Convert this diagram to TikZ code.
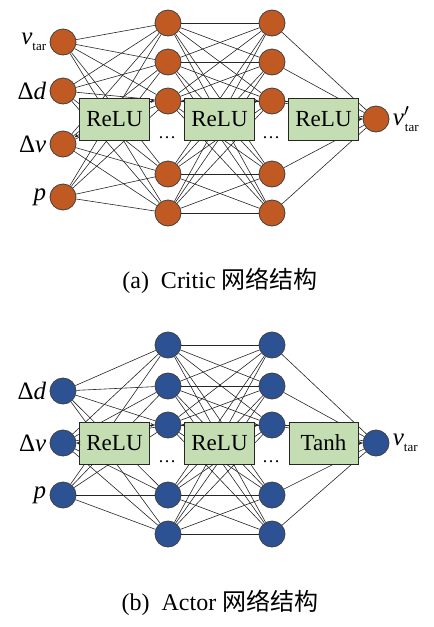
\documentclass[tikz,border=0pt]{standalone}
\usepackage{fontspec}
\setmainfont{Liberation Serif}
\newfontfamily\cjkfont{Noto Sans CJK SC}
\usetikzlibrary{arrows.meta}

\definecolor{neuronorange}{RGB}{192,90,34}
\definecolor{neuronblue}{RGB}{44,82,148}
\definecolor{actgreen}{RGB}{196,221,178}

% pedice "tar"
\newcommand{\tarsub}{\raisebox{-3pt}{\fontsize{6.5}{7}\selectfont tar}}

\begin{document}
\begin{tikzpicture}[
    x=0.5pt, y=-0.5pt,
    % Stili per i neuroni
    neuron/.style={
        circle,
        draw=black!75,
        line width=0.4pt,
        inner sep=0pt,
        minimum size=13pt
    },
    critic/.style={neuron, fill=neuronorange},
    actor/.style={neuron, fill=neuronblue},
    % Stile per le funzioni di attivazione
    actbox/.style={
        rectangle,
        draw=black!85,
        line width=0.5pt,
        fill=actgreen,
        minimum width=34.5pt,
        minimum height=21pt,
        font=\fontsize{11.5}{12}\selectfont
    },
    % Stili per le linee
    link/.style={black!85, line width=0.3pt},
    tip/.style={-{Stealth[length=2pt,width=2pt]}, black!85, line width=0.3pt},
    % Stili per le etichette
    inlabel/.style={font=\fontsize{12.5}{12}\selectfont, inner sep=1.5pt},
    caption/.style={font=\fontsize{12}{13}\selectfont},
    dots/.style={font=\fontsize{9}{9}\selectfont}
]
\useasboundingbox (0,0) rectangle (434,627);

% RETE (a): Critic
\foreach \y [count=\i] in {42,91,144,197} {
    \node[critic] (cin\i) at (63,\y) {};
}
\foreach \y [count=\i] in {23,62,101,174,213} {
    \node[critic] (ch\i) at (168,\y) {};
    \node[critic] (cg\i) at (272,\y) {};
}
\node[critic] (cout) at (376,119) {};

% Etichette ingressi/uscita
\node[inlabel, left] at (cin1.west) {\textit{v}\tarsub};
\node[inlabel, left] at (cin2.west) {Δ\textit{d}};
\node[inlabel, left] at (cin3.west) {Δ\textit{v}};
\node[inlabel, left] at (cin4.west) {\textit{p}};
\node[inlabel, right] at (cout.east) {\textit{v}$'$\hspace{-2.5pt}\tarsub};

% Connessioni complete
\foreach \a in {1,...,4} {
    \foreach \b in {1,...,5} {
        \draw[link] (cin\a) -- (ch\b);
    }
}
\foreach \a in {1,...,5} {
    \foreach \b in {1,...,5} {
        \draw[link] (ch\a) -- (cg\b);
    }
    \draw[link] (cg\a) -- (cout);
}

% Funzioni di attivazione
\node[actbox] (cbox1) at (114.5,119) {ReLU};
\node[actbox] (cbox2) at (219.5,119) {ReLU};
\node[actbox] (cbox3) at (323.5,119) {ReLU};
\node[dots] at (167,138) {\dots};
\node[dots] at (271,138) {\dots};

% Frecce corte
\draw[tip] (cbox1.west |- cin3.north east) -- (cin3);
\draw[tip] (cbox1.east |- ch3) -- (ch3);
\draw[tip] (cbox2.west |- ch3) -- (ch3);
\draw[tip] (cbox2.east |- cg3) -- (cg3);
\draw[link] (cg3) -- (cbox3.west |- cg3);
\draw[tip] (cbox3.east) -- (cout);

\node[caption] (capa) at (220,281) {(a)\ \ Critic {\cjkfont 网络结构}};

% RETE (b): Actor
\foreach \y [count=\i] in {391,443,495} {
    \node[actor] (ain\i) at (63,\y) {};
}
\foreach \y [count=\i] in {345,386,425,495,534} {
    \node[actor] (ah\i) at (168,\y) {};
    \node[actor] (ag\i) at (272,\y) {};
}
\node[actor] (aout) at (376,443) {};

% Etichette ingressi/uscita
\node[inlabel, left] at (ain1.west) {Δ\textit{d}};
\node[inlabel, left] at (ain2.west) {Δ\textit{v}};
\node[inlabel, left] at (ain3.west) {\textit{p}};
\node[inlabel, right] at (aout.east) {\textit{v}\tarsub};

% Connessioni complete
\foreach \a in {1,...,3} {
    \foreach \b in {1,...,5} {
        \draw[link] (ain\a) -- (ah\b);
    }
}
\foreach \a in {1,...,5} {
    \foreach \b in {1,...,5} {
        \draw[link] (ah\a) -- (ag\b);
    }
    \draw[link] (ag\a) -- (aout);
}

% Funzioni di attivazione
\node[actbox] (abox1) at (114.5,443) {ReLU};
\node[actbox] (abox2) at (219.5,443) {ReLU};
\node[actbox] (abox3) at (323.5,443) {Tanh};
\node[dots] at (167,462) {\dots};
\node[dots] at (271,462) {\dots};

% Frecce corte
\draw[tip] (abox1.west) -- (ain2);
\draw[tip] (abox1.east |- ah3) -- (ah3);
\draw[tip] (abox2.west |- ah3) -- (ah3);
\draw[tip] (abox2.east |- ag3) -- (ag3);
\draw[link] (ag3) -- (abox3.west |- ag3);
\draw[tip] (abox3.east) -- (aout);

\node[caption] (capb) at (220,603) {(b)\ \ Actor {\cjkfont 网络结构}};

\end{tikzpicture}
\end{document}
